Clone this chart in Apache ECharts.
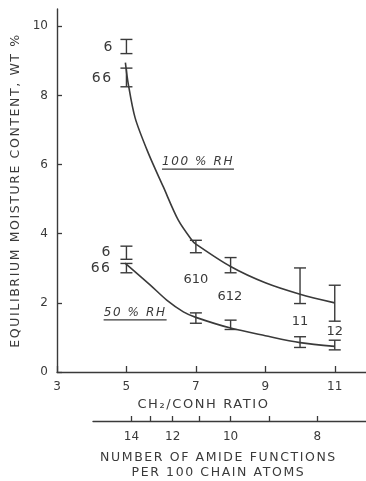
<!DOCTYPE html>
<html><head><meta charset="utf-8">
<script src="https://cdn.jsdelivr.net/npm/echarts@6/dist/echarts.min.js"></script>
<style>html,body{margin:0;padding:0;background:#fff}#c{width:366px;height:481px}</style>
</head><body><div id="c"></div>
<script>
// ---- tick labels ----
const xTicks = [3, 5, 7, 9, 11];
const yTicks = [0, 2, 4, 6, 8, 10];
const amideTicks = [14, 13, 12, 11, 10, 9, 8];
const amideLabels = [14, 12, 10, 8];

// ---- fitted curves ----
const curve100X = [4.97, 5.05, 5.25, 5.63, 6.06, 6.49, 6.88, 7, 8, 9, 10, 11];
const curve100Y = [8.95, 8.35, 7.35, 6.33, 5.36, 4.40, 3.82, 3.70, 3.05, 2.58, 2.25, 2.0];
const curve50X = [4.96, 5.68, 6.16, 6.64, 7, 8, 9, 10, 11];
const curve50Y = [3.15, 2.52, 2.08, 1.74, 1.58, 1.27, 1.05, 0.85, 0.74];

// ---- error bars ----
const err100X = [5, 5, 7, 8, 10, 11];
const err100Low = [9.21, 8.25, 3.45, 2.87, 1.98, 1.47];
const err100High = [9.62, 8.79, 3.81, 3.31, 3.01, 2.51];
const err50X = [5, 5, 7, 8, 10, 11];
const err50Low = [3.26, 2.87, 1.41, 1.23, 0.71, 0.64];
const err50High = [3.64, 3.14, 1.71, 1.50, 1.02, 0.92];

// ---- annotation texts ----
const annTexts = ['6', '66', '100 % RH', '6', '66', '50 % RH', '610', '612', '11', '12'];
const annX = [4.47, 4.30, 7.06, 4.41, 4.27, 5.25, 7.0, 7.98, 10.0, 11.0];
const annY = [9.40, 8.50, 6.07, 3.47, 3.01, 1.71, 2.66, 2.17, 1.45, 1.16];
const annUnderline = [0, 0, 1, 0, 0, 1, 0, 0, 0, 0];
const annBig = [1, 1, 0, 1, 1, 0, 0, 0, 0, 0];

const ink = '#3a3a3a';
const FONT = '"DejaVu Sans", sans-serif';
const X_MIN = 3, Y_MIN = 0;

// lettering-guide style spacing for the longer labels
(function () {
  const P = CanvasRenderingContext2D.prototype;
  const orig = P.fillText;
  if (!('letterSpacing' in P)) return;
  P.fillText = function (t, x, y, mw) {
    const s = String(t);
    const prev = this.letterSpacing;
    this.letterSpacing = s === '66' ? '1.5px' : s.length > 4 ? '1.6px' : '0px';
    const r = mw === undefined ? orig.call(this, t, x, y) : orig.call(this, t, x, y, mw);
    this.letterSpacing = prev;
    return r;
  };
})();

const chart = echarts.init(document.getElementById('c'));

function zip(a, b) { return a.map((v, i) => [v, b[i]]); }
function zip3(a, b, c) { return a.map((v, i) => [v, b[i], c[i]]); }

function errItem(params, api) {
  const x = api.value(0), lo = api.value(1), hi = api.value(2);
  const p1 = api.coord([x, hi]), p2 = api.coord([x, lo]);
  const w = 6;
  const st = { stroke: ink, lineWidth: 1.4 };
  return { type: 'group', children: [
    { type: 'line', shape: { x1: p1[0], y1: p1[1], x2: p2[0], y2: p2[1] }, style: st },
    { type: 'line', shape: { x1: p1[0] - w, y1: p1[1], x2: p1[0] + w, y2: p1[1] }, style: st },
    { type: 'line', shape: { x1: p2[0] - w, y1: p2[1], x2: p2[0] + w, y2: p2[1] }, style: st }
  ]};
}

function annItem(params, api) {
  const i = api.value(2);
  const p = api.coord([api.value(0), api.value(1)]);
  const ul = annUnderline[i];
  const font = ul ? 'italic 12px ' + FONT : (annBig[i] ? '14px ' : '13px ') + FONT;
  const children = [{
    type: 'text', x: p[0], y: p[1],
    style: { text: annTexts[i], fill: ink, font: font, align: 'center', verticalAlign: 'middle' }
  }];
  if (ul) {
    const half = annTexts[i].length * 4.5;
    children.push({ type: 'line', shape: { x1: p[0] - half, y1: p[1] + 7, x2: p[0] + half, y2: p[1] + 7 },
      style: { stroke: ink, lineWidth: 1.3 } });
  }
  return { type: 'group', children };
}

const amideTickPos = amideTicks.map(n => 100 / n - 2);
const amideLabelPos = amideLabels.map(n => 100 / n - 2);
const tickStyle = { color: ink, width: 1.3 };

const option = {
  backgroundColor: '#fff',
  animation: false,
  grid: [
    { left: 57, right: 0, top: 9, bottom: 109 },
    { left: 93, right: 0, top: 416, height: 5 }
  ],
  xAxis: [
    {
      gridIndex: 0, type: 'value', min: X_MIN, max: 11.9,
      axisLine: { onZero: false, lineStyle: { color: ink, width: 1.4 } },
      axisTick: { show: true, inside: true, length: 6, customValues: xTicks, lineStyle: tickStyle },
      axisLabel: { customValues: xTicks, color: ink, fontSize: 12, fontFamily: FONT, margin: 9 },
      splitLine: { show: false },
      name: 'CH\u2082/CONH RATIO', nameLocation: 'middle', nameGap: 26,
      nameTextStyle: { color: ink, fontSize: 13, fontFamily: FONT, padding: [0, 16, 0, 0] }
    },
    {
      gridIndex: 1, type: 'value', min: 4.037, max: 11.9, position: 'bottom',
      axisLine: { onZero: false, lineStyle: { color: ink, width: 1.4 } },
      axisTick: { show: true, inside: true, length: 5, customValues: amideTickPos, lineStyle: tickStyle },
      axisLabel: { customValues: amideLabelPos, color: ink, fontSize: 12, fontFamily: FONT, margin: 10,
        formatter: v => String(Math.round(100 / (v + 2))) },
      splitLine: { show: false },
      name: 'NUMBER OF AMIDE FUNCTIONS\nPER 100 CHAIN ATOMS', nameLocation: 'middle', nameGap: 29,
      nameTextStyle: { color: ink, fontSize: 12.5, fontFamily: FONT, lineHeight: 15, padding: [0, 22, 0, 0] }
    }
  ],
  yAxis: [
    {
      gridIndex: 0, type: 'value', min: Y_MIN, max: 10.5,
      axisLine: { show: true, onZero: false, lineStyle: { color: ink, width: 1.4 } },
      axisTick: { show: true, inside: true, length: 5, customValues: yTicks, lineStyle: tickStyle },
      axisLabel: { customValues: yTicks, color: ink, fontSize: 12, fontFamily: FONT, margin: 9 },
      splitLine: { show: false },
      name: 'EQUILIBRIUM MOISTURE CONTENT, WT %', nameLocation: 'middle', nameGap: 34,
      nameTextStyle: { color: ink, fontSize: 12.5, fontFamily: FONT }
    },
    { gridIndex: 1, type: 'value', min: 0, max: 1, show: false }
  ],
  series: [
    { type: 'line', xAxisIndex: 0, yAxisIndex: 0, data: zip(curve100X, curve100Y), smooth: 0.3,
      showSymbol: false, lineStyle: { color: ink, width: 1.6 } },
    { type: 'line', xAxisIndex: 0, yAxisIndex: 0, data: zip(curve50X, curve50Y), smooth: 0.3,
      showSymbol: false, lineStyle: { color: ink, width: 1.6 } },
    { type: 'custom', xAxisIndex: 0, yAxisIndex: 0, renderItem: errItem, data: zip3(err100X, err100Low, err100High) },
    { type: 'custom', xAxisIndex: 0, yAxisIndex: 0, renderItem: errItem, data: zip3(err50X, err50Low, err50High) },
    { type: 'custom', xAxisIndex: 0, yAxisIndex: 0, renderItem: annItem,
      data: annX.map((v, i) => [v, annY[i], i]) }
  ]
};
chart.setOption(option);
</script>
</body></html>
